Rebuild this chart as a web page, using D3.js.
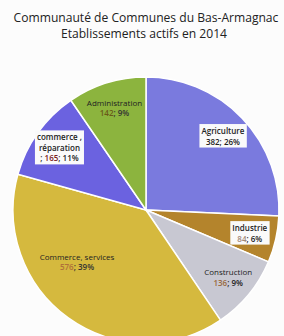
<!DOCTYPE html>
<html><head><meta charset="utf-8">
<script src="https://cdn.jsdelivr.net/npm/d3@7"></script>
<style>
html,body{margin:0;padding:0;background:#fcfcfc;}
svg{display:block;}
</style></head>
<body>
<svg id="c" width="284" height="336"></svg>
<script>
const titleLines = ["Communauté de Communes du Bas-Armagnac", "Etablissements actifs en 2014"];
const categories = ["Agriculture", "Industrie", "Construction", "Commerce, services", "commerce , réparation", "Administration"];
const values = [382, 84, 136, 576, 165, 142];
const percents = ["26%", "6%", "9%", "39%", "11%", "9%"];
const colors = ["#7a7ade", "#b4842c", "#c8c8d2", "#d5b93e", "#6b62e0", "#8cb43e"];

const svg = d3.select("#c");
const cx = 146, cy = 210, R = 133;

svg.append("g").selectAll("text").data(titleLines).join("text")
  .attr("x", (d,i)=> i===0 ? 146 : 144).attr("y", (d,i)=> 22 + i*16)
  .attr("text-anchor","middle")
  .style("font-family","'Open Sans', sans-serif").style("font-size","12.1px").attr("fill","#222")
  .text(d=>d);

const data = categories.map((c,i)=>({cat:c, value:values[i], pct:percents[i], color:colors[i], i}));
const pie = d3.pie().value(d=>d.value).sort(null);
const arcs = pie(data);
const arc = d3.arc().innerRadius(0).outerRadius(R);
const g = svg.append("g").attr("transform",`translate(${cx},${cy})`);
g.selectAll("path").data(arcs).join("path")
  .attr("d", arc).attr("fill", d=>d.data.color)
  .attr("stroke","#fff").attr("stroke-width",1.5);

// label layout: centroid on a ring at 0.8R; the big slice's label sits nearer the centre, lower
const labelArc = d3.arc().innerRadius(R*0.8).outerRadius(R*0.8);
const bigArc = d3.arc().innerRadius(R*0.65).outerRadius(R*0.65);
const boxed = [true, true, false, false, true, false];
const lines = [
  [["Agriculture"], [["382; 26%", "#222"]]],
  [["Industrie"], [["84", "#a08878"], ["; 6%", "#222"]]],
  [["Construction"], [["136", "#9a6a40"], ["; 9%", "#222"]]],
  [["Commerce, services"], [["576", "#b0703a"], ["; 39%", "#333"]]],
  [["commerce ,", "réparation"], [["; ", "#222"], ["165", "#7a2020"], ["; 11%", "#222"]]],
  [["Administration"], [["142", "#6a5a18"], ["; 9%", "#333"]]]
];
const lh = 10.5;
arcs.forEach((a, k) => {
  let x, y;
  if (k === 3) {
    const m = (a.startAngle + a.endAngle)/2 + 0.3;
    [x, y] = bigArc.centroid({startAngle: m, endAngle: m});
  } else {
    [x, y] = labelArc.centroid(a);
  }
  const [nameLines, valParts] = lines[k];
  const n = nameLines.length + 1;
  const lg = g.append("g").attr("transform", `translate(${x},${y})`);
  const y0 = -(n-1)*lh/2;
  const bold = boxed[k];
  const txt = lg.append("g");
  nameLines.forEach((t, j) => {
    txt.append("text").attr("x",0).attr("y", y0 + j*lh).attr("dy","0.35em")
      .attr("text-anchor","middle").style("font-family","'Open Sans', sans-serif")
      .style("font-size","8px").style("font-weight", bold? "600":"400").attr("fill","#222").text(t);
  });
  const vt = txt.append("text").attr("x",0).attr("y", y0 + nameLines.length*lh).attr("dy","0.35em")
      .attr("text-anchor","middle").style("font-family","'Open Sans', sans-serif")
      .style("font-size","8px").style("font-weight", "600");
  valParts.forEach(p => vt.append("tspan").attr("fill", p[1]).text(p[0]));
  if (bold) {
    const bb = txt.node().getBBox();
    lg.insert("rect", ":first-child").attr("x", bb.x-2).attr("y", bb.y-1)
      .attr("width", bb.width+4).attr("height", bb.height+2).attr("fill","#fafafa");
  }
});
</script>
</body></html>
